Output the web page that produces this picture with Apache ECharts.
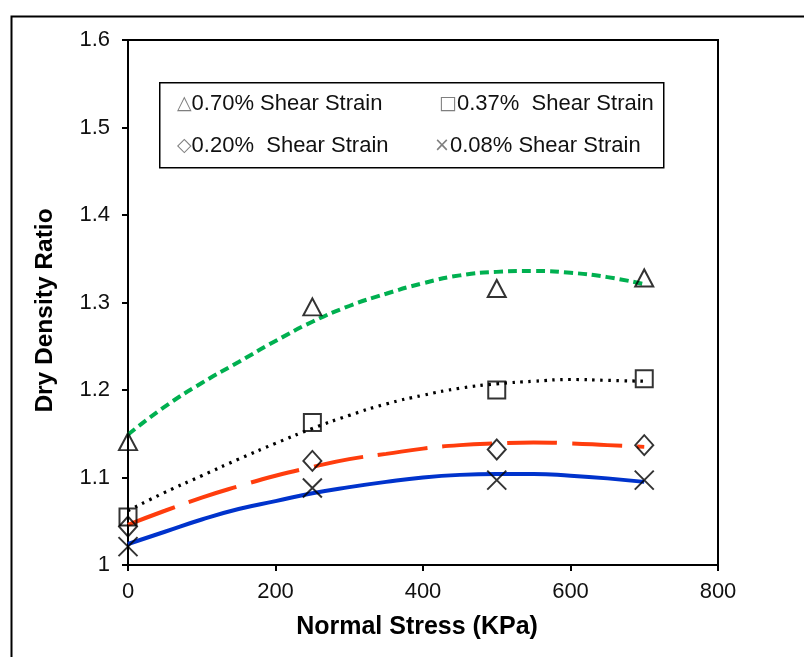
<!DOCTYPE html>
<html>
<head>
<meta charset="utf-8">
<script src="https://cdn.jsdelivr.net/npm/echarts@6/dist/echarts.min.js"></script>
<style>
html,body{margin:0;padding:0;background:#fff;}
#chart{width:804px;height:657px;}
</style>
</head>
<body>
<div id="chart"></div>
<script>
// Measured data points
const stress = [0, 250, 500, 700];
const strain070 = [1.141, 1.295, 1.316, 1.328];
const strain037 = [1.055, 1.163, 1.200, 1.213];
const strain020 = [1.044, 1.119, 1.132, 1.137];
const strain008 = [1.021, 1.088, 1.097, 1.097];

// Trend curves
const trendStress = [0, 50, 100, 150, 200, 250, 300, 350, 400, 450, 500, 550, 600, 650, 700];
const trend070 = [1.149, 1.181, 1.208, 1.232, 1.256, 1.278, 1.296, 1.310, 1.322, 1.331, 1.335, 1.336, 1.334, 1.329, 1.321];
const trend037 = [1.062, 1.083, 1.102, 1.121, 1.139, 1.156, 1.171, 1.184, 1.194, 1.202, 1.207, 1.210, 1.212, 1.211, 1.210];
const trend020 = [1.046, 1.062, 1.077, 1.090, 1.102, 1.112, 1.121, 1.127, 1.133, 1.137, 1.139, 1.140, 1.139, 1.137, 1.135];
const trend008 = [1.024, 1.038, 1.052, 1.064, 1.073, 1.082, 1.089, 1.095, 1.100, 1.103, 1.104, 1.104, 1.102, 1.099, 1.095];

const xTicks = [0, 200, 400, 600, 800];
const yTicks = [1, 1.1, 1.2, 1.3, 1.4, 1.5, 1.6];

const names = ['0.70% Shear Strain', '0.37%  Shear Strain', '0.20%  Shear Strain', '0.08% Shear Strain'];
const glyphs = ['\u25B3', '\u25A1', '\u25C7', '\u00D7'];

const FONT = '"Liberation Sans", Arial, sans-serif';

function pairs(xs, ys) { return xs.map((x, i) => [x, ys[i]]); }

const chart = echarts.init(document.getElementById('chart'), null, {renderer: 'canvas'});

const legendPos = [[172, 93], [434, 93], [172, 135], [429, 135]];
const legends = names.map((n, i) => ({
  data: [n],
  left: legendPos[i][0],
  top: legendPos[i][1],
  icon: 'none',
  itemWidth: 0,
  itemHeight: 0,
  padding: 0,
  selectedMode: false,
  formatter: function (name) { return '{g|' + glyphs[names.indexOf(name)] + '}{t|' + name + '}'; },
  textStyle: {
    rich: {
      g: {fontFamily: '"DejaVu Sans", sans-serif', fontSize: 19, color: '#7f7f7f'},
      t: {fontFamily: FONT, fontSize: 22, color: '#111'}
    }
  }
}));

const crossPath = 'path://M0,0L10,10M10,0L0,10';
const markerStyle = {color: 'rgba(0,0,0,0)', borderColor: '#000', borderWidth: 2};

const option = {
  animation: false,
  backgroundColor: '#fff',
  legend: legends,
  grid: {left: 128, right: 86, top: 40, bottom: 92, show: true, borderColor: '#000', borderWidth: 2, containLabel: false},
  xAxis: {
    type: 'value', min: 0, max: 800, interval: 200,
    name: 'Normal Stress (KPa)', nameLocation: 'middle', nameGap: 50,
    nameTextStyle: {fontFamily: FONT, fontSize: 25, fontWeight: 'bold', color: '#000', padding: [0, 12, 0, 0]},
    axisLine: {show: true, onZero: false, lineStyle: {color: '#000', width: 2}},
    axisTick: {show: true, inside: false, length: 6, lineStyle: {color: '#000', width: 2}},
    axisLabel: {fontFamily: FONT, fontSize: 22, color: '#111', margin: 16,
      formatter: v => xTicks.includes(v) ? String(v) : ''},
    splitLine: {show: false}
  },
  yAxis: {
    type: 'value', min: 1, max: 1.6, interval: 0.1,
    name: 'Dry Density Ratio', nameLocation: 'middle', nameGap: 70, nameRotate: 90,
    nameTextStyle: {fontFamily: FONT, fontSize: 24.5, fontWeight: 'bold', color: '#000', padding: [0, 16, 0, 0]},
    axisLine: {show: true, onZero: false, lineStyle: {color: '#000', width: 2}},
    axisTick: {show: true, inside: false, length: 6, lineStyle: {color: '#000', width: 2}},
    axisLabel: {fontFamily: FONT, fontSize: 22, color: '#111', margin: 18,
      formatter: v => { const t = yTicks.find(y => Math.abs(y - v) < 1e-6); return t === undefined ? '' : String(t); }},
    splitLine: {show: false}
  },
  graphic: [
    {type: 'rect', left: 9, top: 14, shape: {x: 0, y: 0, width: 900, height: 800}, style: {fill: 'none', stroke: '#000', lineWidth: 2}, silent: true, z: -1},
    {type: 'rect', left: 159, top: 82, shape: {x: 0, y: 0, width: 504, height: 85}, style: {fill: '#fff', stroke: '#000', lineWidth: 1.5}, silent: true, z: 0}
  ],
  series: [
    {name: 'trend070', type: 'line', data: pairs(trendStress, trend070), smooth: true, showSymbol: false, symbol: 'none',
      lineStyle: {color: '#00B050', width: 4, type: [9, 5]}, z: 2},
    {name: 'trend037', type: 'line', data: pairs(trendStress, trend037), smooth: true, showSymbol: false, symbol: 'none',
      lineStyle: {color: '#000', width: 3.2, type: [2.5, 5.5]}, z: 2},
    {name: 'trend020', type: 'line', data: pairs(trendStress, trend020), smooth: true, showSymbol: false, symbol: 'none',
      lineStyle: {color: '#FF3D0D', width: 4, type: [50, 15]}, z: 2},
    {name: 'trend008', type: 'line', data: pairs(trendStress, trend008), smooth: true, showSymbol: false, symbol: 'none',
      lineStyle: {color: '#0033CC', width: 4}, z: 2},
    {name: names[0], type: 'scatter', data: pairs(stress, strain070), symbol: 'triangle', symbolSize: [18, 17], itemStyle: markerStyle, z: 3},
    {name: names[1], type: 'scatter', data: pairs(stress, strain037), symbol: 'rect', symbolSize: 17, itemStyle: markerStyle, z: 3},
    {name: names[2], type: 'scatter', data: pairs(stress, strain020), symbol: 'diamond', symbolSize: [18, 20], itemStyle: markerStyle, z: 3},
    {name: names[3], type: 'scatter', data: pairs(stress, strain008), symbol: crossPath, symbolSize: 19, itemStyle: {color: 'rgba(0,0,0,0)', borderColor: '#000', borderWidth: 2}, z: 3}
  ]
};
chart.setOption(option);
</script>
</body>
</html>
